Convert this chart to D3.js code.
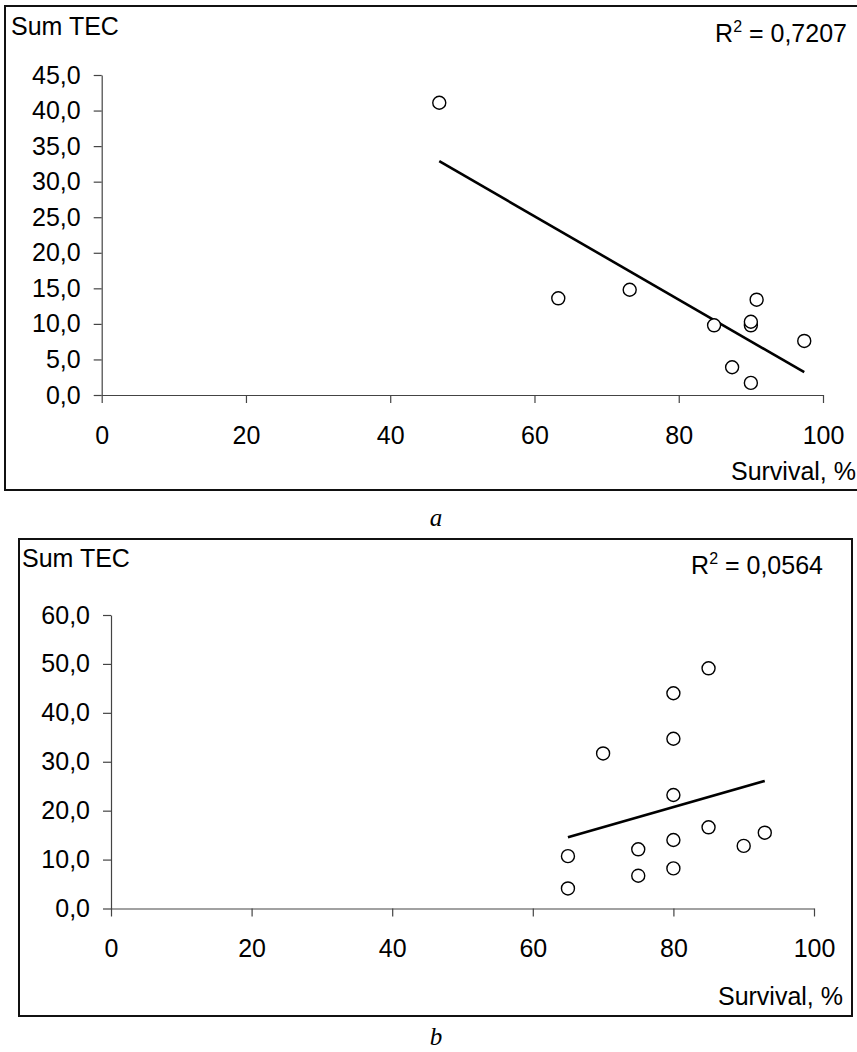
<!DOCTYPE html>
<html>
<head>
<meta charset="utf-8">
<script src="https://cdn.jsdelivr.net/npm/d3@7"></script>
<style>
  html, body { margin: 0; padding: 0; background: #fff; }
  svg { display: block; }
  text { font-family: "Liberation Sans", Arial, sans-serif; fill: #000; }
</style>
</head>
<body>
<svg id="chart" width="857" height="1052"></svg>
<script>
// ---- Data ----
const panelNames = ["a", "b"];
const yAxisTitle = "Sum TEC";
const xAxisTitle = "Survival, %";
const rSquaredLabels = ["0,7207", "0,0564"];

const aSurvival = [46.8, 63.3, 73.2, 84.9, 90.0, 90.0, 90.8, 87.4, 90.0, 97.4];
const aTEC      = [41.1, 13.6, 14.8, 9.8, 9.8, 10.3, 13.4, 3.9, 1.7, 7.6];

const bSurvival = [85, 80, 80, 70, 80, 85, 93, 80, 90, 75, 65, 80, 75, 65];
const bTEC      = [49.1, 44.0, 34.7, 31.7, 23.2, 16.6, 15.5, 14.0, 12.8, 12.1, 10.7, 8.2, 6.7, 4.1];

const xTicks  = [0, 20, 40, 60, 80, 100];
const aYTicks = [0, 5, 10, 15, 20, 25, 30, 35, 40, 45];
const bYTicks = [0, 10, 20, 30, 40, 50, 60];

// ---- Layout ----
const svg = d3.select("#chart");
const FS = 25;
const fmtY = d => d.toFixed(1).replace(".", ",");

const panels = [
  { name: panelNames[0], xs: aSurvival, ys: aTEC, yTicks: aYTicks, yMax: 45, r2: rSquaredLabels[0],
    frame: { x: 5, y: 6, w: 880, h: 484 },
    xRange: [101.7, 823], yRange: [395, 75],
    title: { x: 11, y: 35 }, r2Pos: { x: 847, y: 42 }, xTitle: { x: 856, y: 480 },
    caption: { x: 436, y: 526 } },
  { name: panelNames[1], xs: bSurvival, ys: bTEC, yTicks: bYTicks, yMax: 60, r2: rSquaredLabels[1],
    frame: { x: 19, y: 539, w: 833, h: 477 },
    xRange: [111, 814], yRange: [908.5, 615],
    title: { x: 22, y: 567 }, r2Pos: { x: 823, y: 574 }, xTitle: { x: 843, y: 1005 },
    caption: { x: 436, y: 1045 } }
];

panels.forEach(p => {
  const g = svg.append("g");

  // frame
  g.append("rect")
    .attr("x", p.frame.x).attr("y", p.frame.y)
    .attr("width", p.frame.w).attr("height", p.frame.h)
    .attr("fill", "none").attr("stroke", "#111").attr("stroke-width", 2);

  const x = d3.scaleLinear().domain([0, 100]).range(p.xRange);
  const y = d3.scaleLinear().domain([0, p.yMax]).range(p.yRange);

  // axes
  const xAxis = d3.axisBottom(x).tickValues(xTicks).tickSize(8).tickSizeOuter(0).tickPadding(23);
  const yAxis = d3.axisLeft(y).tickValues(p.yTicks).tickFormat(fmtY).tickSize(8).tickSizeOuter(0).tickPadding(13);

  const gx = g.append("g").attr("transform", `translate(0,${p.yRange[0]})`).call(xAxis);
  const gy = g.append("g").attr("transform", `translate(${p.xRange[0]},0)`).call(yAxis);
  [gx, gy].forEach(ax => {
    ax.selectAll("path.domain").attr("stroke", "#444").attr("stroke-width", 1.2);
    ax.selectAll(".tick line").attr("stroke", "#444").attr("stroke-width", 1.2);
    ax.selectAll(".tick text").attr("font-size", FS).attr("font-family", "Liberation Sans, Arial, sans-serif").attr("fill", "#000");
  });

  // regression line (least squares from the data)
  const n = p.xs.length;
  const mx = d3.mean(p.xs), my = d3.mean(p.ys);
  let sxy = 0, sxx = 0;
  for (let i = 0; i < n; i++) { sxy += (p.xs[i] - mx) * (p.ys[i] - my); sxx += (p.xs[i] - mx) ** 2; }
  const slope = sxy / sxx, icpt = my - slope * mx;
  const [x0, x1] = d3.extent(p.xs);
  g.append("line")
    .attr("x1", x(x0)).attr("y1", y(icpt + slope * x0))
    .attr("x2", x(x1)).attr("y2", y(icpt + slope * x1))
    .attr("stroke", "#000").attr("stroke-width", 2.6);

  // points
  g.append("g").selectAll("circle")
    .data(p.xs.map((v, i) => [v, p.ys[i]]))
    .join("circle")
    .attr("cx", d => x(d[0])).attr("cy", d => y(d[1]))
    .attr("r", 6.5)
    .attr("fill", "#fff").attr("stroke", "#000").attr("stroke-width", 1.4);

  // titles
  g.append("text").attr("x", p.title.x).attr("y", p.title.y).attr("font-size", FS).text(yAxisTitle);
  g.append("text").attr("x", p.xTitle.x).attr("y", p.xTitle.y).attr("font-size", FS)
    .attr("text-anchor", "end").text(xAxisTitle);

  const r2 = g.append("text").attr("x", p.r2Pos.x).attr("y", p.r2Pos.y).attr("font-size", FS).attr("text-anchor", "end");
  r2.append("tspan").text("R");
  r2.append("tspan").attr("dy", -10).attr("font-size", 16).text("2");
  r2.append("tspan").attr("dy", 10).text(" = " + p.r2);

  // caption
  svg.append("text").attr("x", p.caption.x).attr("y", p.caption.y)
    .attr("text-anchor", "middle")
    .style("font-family", "'Liberation Serif', 'Times New Roman', serif")
    .attr("font-style", "italic").attr("font-size", 25).text(p.name);
});
</script>
</body>
</html>
